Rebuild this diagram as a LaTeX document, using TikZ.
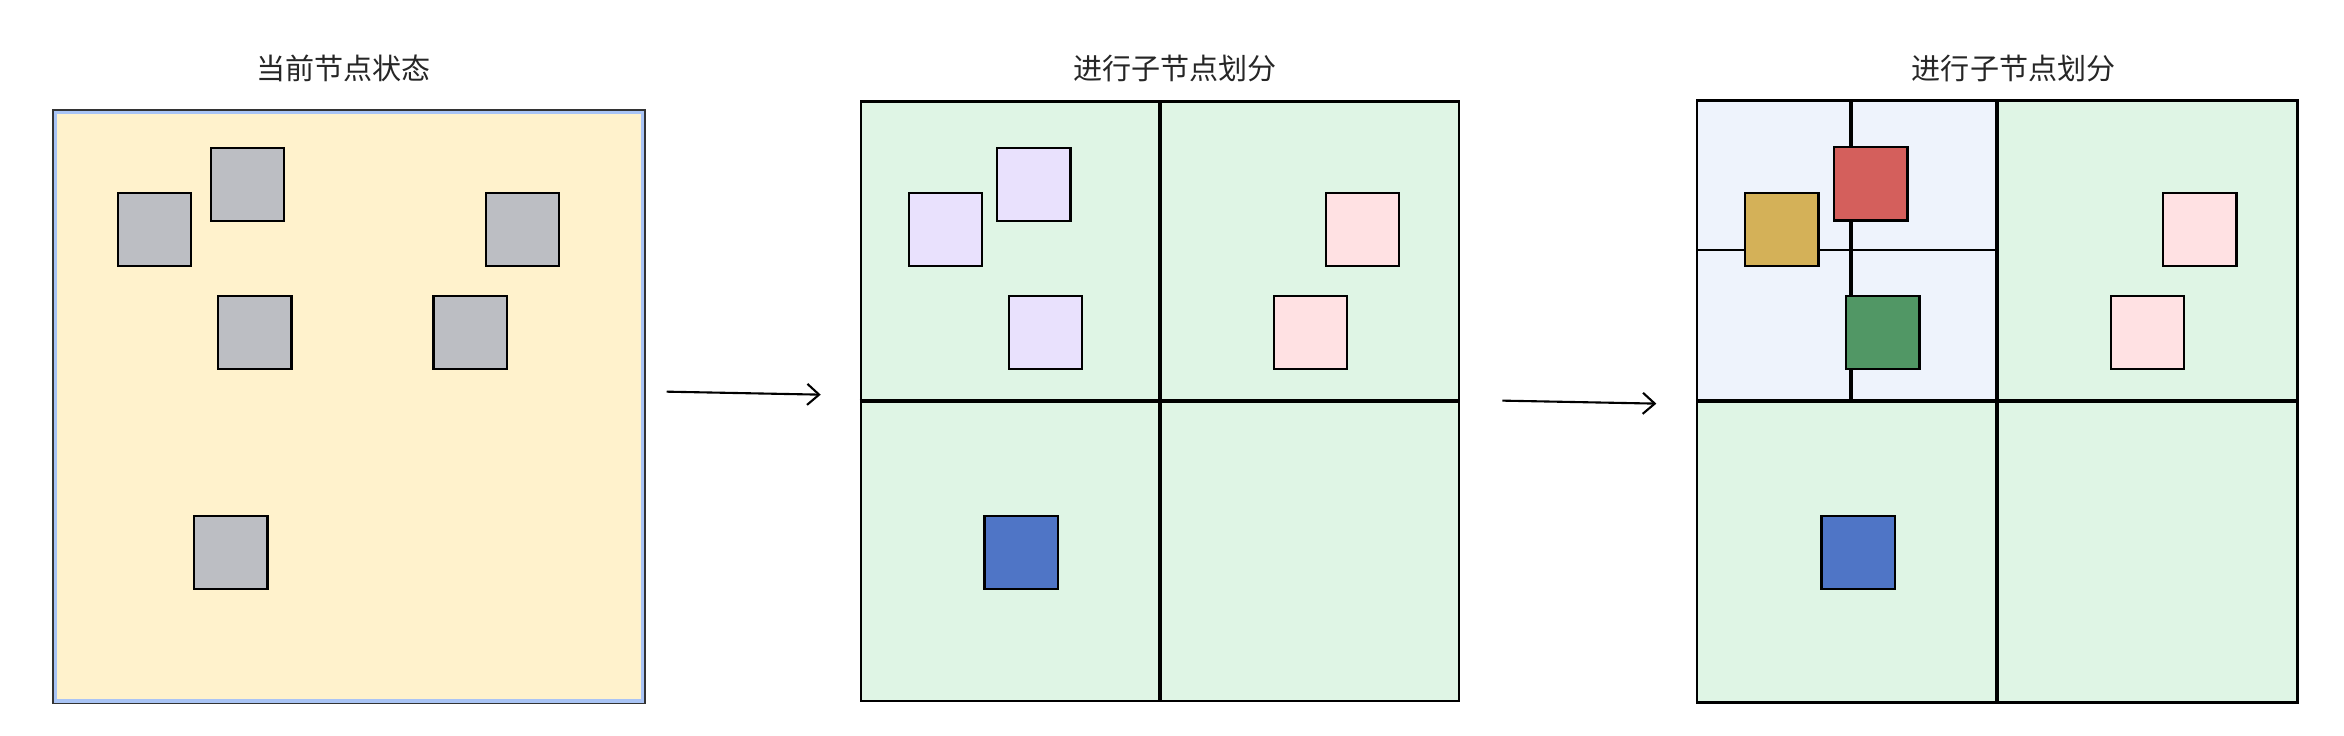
\documentclass[tikz,border=0pt]{standalone}
\usepackage{fontspec}
\newfontfamily\cjkfont{Noto Sans CJK SC}
\usetikzlibrary{arrows.meta}

\definecolor{cream}{HTML}{FFF2CC}
\definecolor{selblue}{HTML}{A9C4F5}
\definecolor{grayfill}{HTML}{BCBEC3}
\definecolor{mint}{HTML}{DFF5E5}
\definecolor{lavender}{HTML}{E9E1FD}
\definecolor{rosy}{HTML}{FFE1E3}
\definecolor{royal}{HTML}{4F75C6}
\definecolor{mustard}{HTML}{D4B158}
\definecolor{brick}{HTML}{D45F5C}
\definecolor{leaf}{HTML}{519765}
\definecolor{ice}{HTML}{EEF3FC}

\begin{document}
\begin{tikzpicture}[x=0.015cm, y=-0.015cm,
    title/.style={font=\cjkfont\fontsize{8.3}{10}\selectfont, text=black!85},
    panel/.style={draw=black, line width=0.75pt, inner sep=0pt,
                  minimum width=6cm, minimum height=6.015cm},
    split/.style={line width=1.2pt},
    thin split/.style={line width=0.6pt},
    item/.style={draw=black, line width=0.65pt, inner sep=0pt,
                 minimum size=0.735cm},
    flow/.style={-{Straight Barb[length=3.4pt,width=6pt]}, line width=0.6pt}]

    % fix the page
    \useasboundingbox (0,0) rectangle (1568,491.7);

    % Titles
    \node[title] (t1) at (230,46) {当前节点状态};
    \node[title] (t2) at (786,46) {进行子节点划分};
    \node[title] (t3) at (1347,46) {进行子节点划分};

    % Panel 1: current node
    \node[inner sep=0pt, fill=cream, draw=selblue, line width=1.2pt,
          minimum width=5.895cm, minimum height=5.91cm] (state) at (233.5,272) {};
    \draw[black!80, line width=0.4pt] (state.north west) rectangle (state.south east);
    \foreach \n/\p in {g1/{(103.5,153.5)}, g2/{(165.5,123.5)}, g3/{(349.5,153.5)},
                       g4/{(170.5,222.5)}, g5/{(314.5,222.5)}, g6/{(154.5,369.5)}}
        \node[item, fill=grayfill] (\n) at \p {};

    % Panel 2: first split
    \node[panel, fill=mint] (split) at (776,268.5) {};
    \draw[split] (split.north) -- (split.south);
    \draw[split] (split.west) -- (split.east);
    \foreach \n/\p in {v1/{(632.5,153.5)}, v2/{(691.5,123.5)}, v3/{(699.5,222.5)}}
        \node[item, fill=lavender] (\n) at \p {};
    \foreach \n/\p in {r1/{(911.5,153.5)}, r2/{(876.5,222.5)}}
        \node[item, fill=rosy] (\n) at \p {};
    \node[item, fill=royal] (b1) at (683,369.5) {};

    % Panel 3: split again in the top-left quadrant
    \node[panel, draw=none, fill=mint] (resplit) at (1336,268.5) {};
    \fill[ice] (resplit.north west) rectangle (resplit.center);
    \coordinate (qc) at (1238,167);
    \draw[thin split] (resplit.west |- qc) -- (resplit.center |- qc);
    \draw[split] (resplit.north -| qc) -- (resplit.center -| qc);
    \draw[black, line width=0.75pt] (resplit.north west) rectangle (resplit.south east);
    \draw[split] (resplit.north) -- (resplit.south);
    \draw[split] (resplit.west) -- (resplit.east);
    \node[item, fill=mustard] (y1) at (1192,153.5) {};
    \node[item, fill=brick] (c1) at (1251.5,123) {};
    \node[item, fill=leaf] (l1) at (1259.5,222.5) {};
    \foreach \n/\p in {s1/{(1471.5,153.5)}, s2/{(1436.5,222.5)}}
        \node[item, fill=rosy] (\n) at \p {};
    \node[item, fill=royal] (b2) at (1243,369.5) {};

    % Arrows between the steps
    \coordinate (a1) at (446,262);
    \coordinate (a2) at (549,264);
    \coordinate (a3) at (1005,268);
    \coordinate (a4) at (1108,270);
    \draw[flow] (a1) -- (a2);
    \draw[flow] (a3) -- (a4);
\end{tikzpicture}
\end{document}
